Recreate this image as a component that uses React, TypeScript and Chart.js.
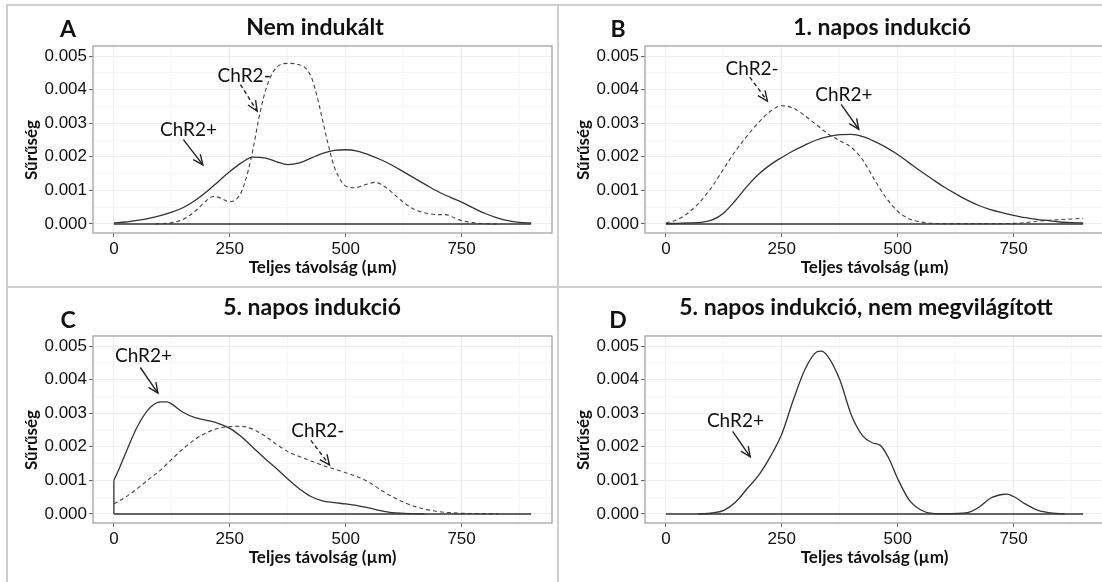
import React, { useEffect, useRef } from "react";
import { Chart, registerables } from "chart.js";

Chart.register(...registerables);

// ---------- data ----------
const xTickValues = [0, 250, 500, 750];
const xMinorValues = [125, 375, 625, 875];
const yTickValues = [0, 0.001, 0.002, 0.003, 0.004, 0.005];
const yMinorValues = [0.0005, 0.0015, 0.0025, 0.0035, 0.0045];
const baselineX = [0, 900];
const baselineY = [0, 0];

const xAxisTitle = "Teljes távolság (µm)";
const yAxisTitle = "Sűrűség";
const panelLetters = ["A", "B", "C", "D"];
const panelTitles = ["Nem indukált", "1. napos indukció", "5. napos indukció", "5. napos indukció, nem megvilágított"];

// Panel A
const aPlusX = [0, 25, 50, 75, 100, 125, 150, 175, 200, 225, 250, 275, 300, 325, 350, 375, 400, 425, 450, 475, 500, 525, 550, 575, 600, 625, 650, 675, 700, 725, 750, 775, 800, 825, 850, 875, 900];
const aPlusY = [0.00003, 0.00006, 0.00011, 0.00017, 0.00025, 0.00035, 0.00049, 0.0007, 0.00096, 0.00126, 0.00156, 0.00182, 0.00199, 0.00197, 0.00186, 0.00177, 0.00182, 0.00196, 0.0021, 0.00219, 0.00221, 0.00217, 0.00206, 0.00192, 0.00175, 0.00155, 0.00135, 0.00115, 0.00096, 0.0008, 0.00065, 0.00048, 0.00032, 0.00019, 0.0001, 0.00005, 0.00003];
const aMinusX = [90, 100, 125, 150, 175, 200, 215, 225, 250, 265, 275, 290, 300, 315, 330, 350, 375, 400, 425, 440, 450, 460, 475, 490, 500, 520, 540, 565, 585, 600, 625, 650, 675, 700, 715, 735, 750, 775, 800, 830];
const aMinusY = [0, 0.00001, 0.00004, 0.00014, 0.00038, 0.0007, 0.00082, 0.0008, 0.00066, 0.00075, 0.00095, 0.0016, 0.00222, 0.0033, 0.0041, 0.00465, 0.00478, 0.00474, 0.0044, 0.0037, 0.0031, 0.0025, 0.00172, 0.00128, 0.00113, 0.00108, 0.00116, 0.00124, 0.0011, 0.00094, 0.00064, 0.00042, 0.00032, 0.00028, 0.00028, 0.00018, 0.0001, 0.00004, 0.00001, 0];

// Panel B
const bPlusX = [0, 25, 50, 75, 100, 125, 150, 175, 200, 225, 250, 275, 300, 325, 350, 375, 400, 425, 450, 475, 500, 525, 550, 575, 600, 625, 650, 675, 700, 725, 750, 775, 800, 825, 850, 875, 900];
const bPlusY = [0.00001, 0.00002, 0.00003, 0.00005, 0.00012, 0.00033, 0.0007, 0.00112, 0.00148, 0.00176, 0.00198, 0.00218, 0.00235, 0.0025, 0.0026, 0.00266, 0.00267, 0.0026, 0.00246, 0.00228, 0.00207, 0.00182, 0.00157, 0.00133, 0.0011, 0.0009, 0.00071, 0.00055, 0.00043, 0.00034, 0.00026, 0.00019, 0.00014, 0.0001, 0.00006, 0.00004, 0.00003];
const bMinusX = [0, 25, 50, 75, 100, 125, 150, 175, 200, 225, 250, 275, 300, 325, 350, 375, 400, 425, 450, 475, 500, 525, 550, 575, 600, 650, 700, 750, 775, 800, 825, 850, 875, 900];
const bMinusY = [0.00003, 0.00013, 0.00035, 0.00068, 0.00112, 0.00165, 0.00217, 0.00262, 0.00302, 0.00335, 0.00352, 0.00345, 0.00322, 0.00295, 0.00268, 0.00248, 0.00228, 0.0019, 0.00132, 0.00078, 0.00038, 0.00015, 0.00006, 0.00002, 0.00001, 0.00001, 0.00001, 0.00002, 0.00004, 0.00008, 0.00011, 0.00013, 0.00015, 0.00017];

// Panel C
const cPlusX = [0, 10, 25, 50, 75, 100, 115, 125, 150, 175, 200, 225, 250, 275, 300, 325, 350, 375, 400, 425, 450, 475, 500, 525, 550, 575, 600, 625, 650, 670];
const cPlusY = [0.001, 0.0013, 0.0018, 0.00258, 0.00312, 0.00334, 0.00334, 0.00327, 0.00302, 0.00287, 0.00279, 0.0027, 0.00255, 0.0023, 0.00198, 0.00166, 0.00136, 0.00104, 0.00075, 0.00052, 0.00039, 0.00034, 0.0003, 0.00025, 0.00018, 0.0001, 0.00004, 0.00002, 0.00001, 0];
const cMinusX = [0, 25, 50, 75, 100, 125, 150, 175, 200, 225, 250, 275, 300, 325, 350, 375, 400, 425, 450, 475, 500, 525, 550, 575, 600, 625, 650, 675, 700, 725, 750, 800, 830];
const cMinusY = [0.0003, 0.0005, 0.00075, 0.00103, 0.0013, 0.00163, 0.00195, 0.00222, 0.00242, 0.00255, 0.0026, 0.00261, 0.00252, 0.00233, 0.00208, 0.00186, 0.00171, 0.00158, 0.00145, 0.00134, 0.00123, 0.00111, 0.00095, 0.00072, 0.00052, 0.00035, 0.00022, 0.00013, 0.00007, 0.00004, 0.00002, 0.00001, 0];

// Panel D
const dPlusX = [70, 100, 125, 150, 175, 200, 225, 250, 275, 300, 325, 335, 350, 375, 400, 425, 445, 462, 480, 500, 525, 550, 575, 600, 650, 675, 700, 725, 735, 750, 775, 800, 825, 860];
const dPlusY = [0, 0.00003, 0.00011, 0.00035, 0.00075, 0.00115, 0.0017, 0.00238, 0.0034, 0.0043, 0.00482, 0.00485, 0.00468, 0.004, 0.00295, 0.00232, 0.00212, 0.00205, 0.00168, 0.00105, 0.00041, 0.00012, 0.00002, 0.00001, 0.00004, 0.0002, 0.00047, 0.00058, 0.00059, 0.00052, 0.0003, 0.00012, 0.00004, 0];

// Annotations (data coordinates): label centre, arrow start, arrow end
type Note = { text: string; tx: number; ty: number; fx: number; fy: number; ex: number; ey: number; dashed: boolean };
const notesA: Note[] = [
  { text: "ChR2-", tx: 281, ty: 0.00441, fx: 273, fy: 0.00415, ex: 309, ey: 0.00336, dashed: true },
  { text: "ChR2+", tx: 161, ty: 0.0028, fx: 150, fy: 0.00251, ex: 192, ey: 0.00176, dashed: false },
];
const notesB: Note[] = [
  { text: "ChR2-", tx: 186, ty: 0.00461, fx: 181, fy: 0.00437, ex: 219, ey: 0.00366, dashed: true },
  { text: "ChR2+", tx: 384, ty: 0.00385, fx: 378, fy: 0.00356, ex: 416, ey: 0.00282, dashed: false },
];
const notesC: Note[] = [
  { text: "ChR2+", tx: 64, ty: 0.00472, fx: 57, fy: 0.00436, ex: 95, ey: 0.0036, dashed: false },
  { text: "ChR2-", tx: 440, ty: 0.00248, fx: 425, fy: 0.00219, ex: 465, ey: 0.00146, dashed: true },
];
const notesD: Note[] = [
  { text: "ChR2+", tx: 150, ty: 0.00276, fx: 144, fy: 0.00246, ex: 182, ey: 0.0017, dashed: false },
];

// ---------- layout / style ----------
const LINE = "#333333";
const TICK_FONT = "'Liberation Sans', Arial, sans-serif";
const TEXT_FONT = "Lato, 'Open Sans', sans-serif";
const CANVAS_W = 558;
const CANVAS_H = 290;

type PanelSpec = {
  left: number;
  top: number;
  letter: string;
  title: string;
  titleX: number;
  titleY: number;
  letterX: number;
  letterY: number;
  series: { xs: number[]; ys: number[]; dashed: boolean }[];
  edge?: boolean;
  notes: Note[];
};

const pts = (xs: number[], ys: number[]) => xs.map((x, i) => ({ x, y: ys[i] }));

function drawArrow(ctx: CanvasRenderingContext2D, x1: number, y1: number, x2: number, y2: number, dashed: boolean) {
  ctx.strokeStyle = "#222";
  ctx.lineWidth = 1.4;
  ctx.setLineDash(dashed ? [4, 3] : []);
  ctx.beginPath();
  ctx.moveTo(x1, y1);
  ctx.lineTo(x2, y2);
  ctx.stroke();
  ctx.setLineDash([]);
  const ang = Math.atan2(y2 - y1, x2 - x1);
  const L = 11;
  const a = 0.42;
  ctx.beginPath();
  ctx.moveTo(x2 - L * Math.cos(ang - a), y2 - L * Math.sin(ang - a));
  ctx.lineTo(x2, y2);
  ctx.lineTo(x2 - L * Math.cos(ang + a), y2 - L * Math.sin(ang + a));
  ctx.stroke();
}

const decorPlugin = {
  id: "decor",
  afterDraw(chart: any, _args: any, opts: any) {
    const { ctx, chartArea: ca, scales } = chart;
    const xs = scales.x;
    const ys = scales.y;
    const spec: PanelSpec = opts.spec;
    ctx.save();
    // panel border
    ctx.strokeStyle = "#a3a3a3";
    ctx.lineWidth = 1.3;
    ctx.strokeRect(ca.left, ca.top, ca.right - ca.left, ca.bottom - ca.top);
    // title + letter
    ctx.fillStyle = "#111";
    ctx.textAlign = "center";
    ctx.textBaseline = "middle";
    ctx.font = `bold 23px ${TEXT_FONT}`;
    ctx.fillText(spec.title, spec.titleX, spec.titleY);
    ctx.fillText(spec.letter, spec.letterX, spec.letterY);
    // axis titles
    ctx.font = `bold 17px ${TEXT_FONT}`;
    ctx.fillText(xAxisTitle, (ca.left + ca.right) / 2, 268);
    ctx.save();
    ctx.translate(32, 150);
    ctx.rotate(-Math.PI / 2);
    ctx.fillText(yAxisTitle, 0, 0);
    ctx.restore();
    // annotations
    ctx.font = `19px ${TEXT_FONT}`;
    for (const n of spec.notes) {
      ctx.fillStyle = "#111";
      ctx.fillText(n.text, xs.getPixelForValue(n.tx), ys.getPixelForValue(n.ty));
      drawArrow(
        ctx,
        xs.getPixelForValue(n.fx),
        ys.getPixelForValue(n.fy),
        xs.getPixelForValue(n.ex),
        ys.getPixelForValue(n.ey),
        n.dashed
      );
    }
    ctx.restore();
  },
};

function Panel({ spec }: { spec: PanelSpec }) {
  const ref = useRef<HTMLCanvasElement | null>(null);
  useEffect(() => {
    if (!ref.current) return;
    const datasets: any[] = [
      {
        data: pts(baselineX, baselineY),
        borderColor: LINE,
        borderWidth: 1.4,
        pointRadius: 0,
        fill: false,
      },
    ];
    if (spec.edge) {
      const s = spec.series[0];
      datasets.push({
        data: pts([s.xs[0], s.xs[0]], [0, s.ys[0]]),
        borderColor: LINE,
        borderWidth: 1.3,
        pointRadius: 0,
        fill: false,
      });
    }
    for (const s of spec.series) {
      datasets.push({
        data: pts(s.xs, s.ys),
        borderColor: s.dashed ? "#444" : LINE,
        borderWidth: s.dashed ? 1.1 : 1.3,
        borderDash: s.dashed ? [4, 3] : [],
        pointRadius: 0,
        fill: false,
        cubicInterpolationMode: "monotone",
      });
    }
    const allX = [...xTickValues, ...xMinorValues].sort((a, b) => a - b);
    const allY = [...yTickValues, ...yMinorValues].sort((a, b) => a - b);
    const chart = new Chart(ref.current, {
      type: "line",
      data: { datasets },
      plugins: [decorPlugin],
      options: {
        animation: false,
        responsive: false,
        maintainAspectRatio: false,
        events: [],
        layout: { padding: { top: 46, right: 6, left: 0, bottom: 0 } },
        plugins: {
          legend: { display: false },
          tooltip: { enabled: false },
          title: { display: false },
          decor: { spec },
        } as any,
        scales: {
          x: {
            type: "linear",
            min: -45,
            max: 945,
            afterBuildTicks: (axis: any) => {
              axis.ticks = allX.map((v) => ({ value: v }));
            },
            afterFit: (axis: any) => {
              axis.height = CANVAS_H - 233;
            },
            ticks: {
              autoSkip: false,
              maxRotation: 0,
              padding: 2,
              color: "#111",
              font: { family: TICK_FONT, size: 17 },
              callback: (v: any) => (xTickValues.includes(v) ? String(v) : ""),
            },
            grid: {
              color: (c: any) => (c.tick && xTickValues.includes(c.tick.value) ? "#eeeeee" : "#f6f6f6"),
              tickColor: (c: any) => (c.tick && xTickValues.includes(c.tick.value) ? "#666" : "rgba(0,0,0,0)"),
              tickLength: 4,
              lineWidth: 1,
            },
            border: { display: false },
          },
          y: {
            type: "linear",
            min: -0.000268,
            max: 0.005298,
            afterBuildTicks: (axis: any) => {
              axis.ticks = allY.map((v) => ({ value: v }));
            },
            afterFit: (axis: any) => {
              axis.width = 93;
            },
            ticks: {
              autoSkip: false,
              padding: 2,
              color: "#111",
              font: { family: TICK_FONT, size: 17 },
              callback: (v: any) => (yTickValues.includes(v) ? Number(v).toFixed(3) : ""),
            },
            grid: {
              color: (c: any) => (c.tick && yTickValues.includes(c.tick.value) ? "#eeeeee" : "#f6f6f6"),
              tickColor: (c: any) => (c.tick && yTickValues.includes(c.tick.value) ? "#666" : "rgba(0,0,0,0)"),
              tickLength: 4,
              lineWidth: 1,
            },
            border: { display: false },
          },
        },
      } as any,
    });
    return () => chart.destroy();
  }, [spec]);
  return (
    <canvas
      ref={ref}
      width={CANVAS_W}
      height={CANVAS_H}
      style={{ position: "absolute", left: spec.left, top: spec.top, width: CANVAS_W, height: CANVAS_H }}
    />
  );
}

const specs: PanelSpec[] = [
  {
    left: 0, top: 0, letter: panelLetters[0], title: panelTitles[0],
    titleX: 315, titleY: 28, letterX: 68, letterY: 30,
    series: [{ xs: aPlusX, ys: aPlusY, dashed: false }, { xs: aMinusX, ys: aMinusY, dashed: true }],
    notes: notesA,
  },
  {
    left: 552, top: 0, letter: panelLetters[1], title: panelTitles[1],
    titleX: 330, titleY: 28, letterX: 66, letterY: 30,
    series: [{ xs: bPlusX, ys: bPlusY, dashed: false }, { xs: bMinusX, ys: bMinusY, dashed: true }],
    notes: notesB,
  },
  {
    left: 0, top: 290, letter: panelLetters[2], title: panelTitles[2],
    titleX: 312, titleY: 18, letterX: 68, letterY: 31,
    series: [{ xs: cPlusX, ys: cPlusY, dashed: false }, { xs: cMinusX, ys: cMinusY, dashed: true }],
    edge: true,
    notes: notesC,
  },
  {
    left: 552, top: 290, letter: panelLetters[3], title: panelTitles[3],
    titleX: 314, titleY: 18, letterX: 66, letterY: 31,
    series: [{ xs: dPlusX, ys: dPlusY, dashed: false }],
    notes: notesD,
  },
];

const SEP = "#cfcfcf";

export default function App() {
  return (
    <div style={{ position: "fixed", left: 0, top: 0, width: 1102, height: 582, overflow: "hidden", background: "#fff" }}>
      {specs.map((s) => (
        <Panel key={s.letter} spec={s} />
      ))}
      <div style={{ position: "absolute", left: 6, top: 4, width: 1096, height: 2, background: SEP }} />
      <div style={{ position: "absolute", left: 6, top: 4, width: 2, height: 578, background: SEP }} />
      <div style={{ position: "absolute", left: 6, top: 286, width: 1096, height: 2, background: SEP }} />
      <div style={{ position: "absolute", left: 557, top: 4, width: 2, height: 578, background: SEP }} />
    </div>
  );
}
